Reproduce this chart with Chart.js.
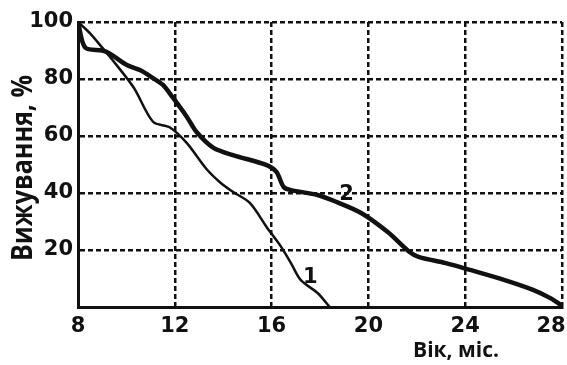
<!DOCTYPE html>
<html>
<head>
<meta charset="utf-8">
<script src="https://cdn.jsdelivr.net/npm/chart.js@4/dist/chart.umd.min.js"></script>
<style>
  html, body { margin: 0; padding: 0; background: #fff; }
  #c { display: block; }
</style>
</head>
<body>
<canvas id="c" width="567" height="365"></canvas>
<script>
// Survival curves: age in months vs. share of animals surviving, %
const ageMonths1 = [8, 8.5, 9.0, 9.3, 10.3, 11.1, 11.8, 12.5, 13.3, 13.9, 14.4, 15.1, 15.8, 16.4, 16.8, 17.2, 17.9, 18.4];
const survival1  = [100, 96, 91, 88, 77, 65, 63, 57.5, 48.5, 43.5, 40.4, 36.5, 28, 21, 15.4, 9.5, 4.9, 0];

const ageMonths2 = [8, 8.3, 9.0, 9.3, 10.0, 10.6, 11.1, 11.5, 11.9, 12.5, 12.9, 13.6, 14.4, 15.8, 16.2, 16.5, 16.8, 17.9, 18.7, 19.7, 20.8, 21.7, 22.1, 23.2, 24.2, 25.6, 26.8, 27.5, 28];
const survival2  = [100, 91, 90, 89, 85, 83, 80.3, 78, 73.7, 66.7, 61.4, 55.8, 53.3, 49.8, 47.4, 42.1, 41, 39.3, 36.8, 33, 26.3, 19.3, 17.5, 15.4, 13, 9.5, 6, 3.2, 0.5];

const xTicks = [8, 12, 16, 20, 24, 28];
const yTicks = [20, 40, 60, 80, 100];

// Curve numbers placed at data coordinates
const curveLabels = [
  { text: '1', x: 17.6, y: 10.5 },
  { text: '2', x: 19.1, y: 39.5 }
];

const toPoints = (xs, ys) => xs.map((x, i) => ({ x, y: ys[i] }));

const INK = '#111';
const tickFont = { family: 'DejaVu Sans', size: 21, weight: 'bold' };

const annotate = {
  id: 'annotate',
  afterDatasetsDraw(chart) {
    const { ctx, scales: { x, y } } = chart;
    ctx.save();
    ctx.fillStyle = INK;
    ctx.font = 'bold 21px "DejaVu Sans"';
    ctx.textAlign = 'center';
    ctx.textBaseline = 'middle';
    curveLabels.forEach(l => ctx.fillText(l.text, x.getPixelForValue(l.x), y.getPixelForValue(l.y)));

    // axis titles
    ctx.font = 'bold 21px "Open Sans"';
    ctx.fillText('Вік, міс.', 456, 351);

    // vertical title, condensed along its length
    const yTitle = 'Вижування, %';
    ctx.font = 'bold 28px "Open Sans"';
    ctx.textBaseline = 'alphabetic';
    const w = ctx.measureText(yTitle).width;
    ctx.translate(32, 168);
    ctx.rotate(-Math.PI / 2);
    ctx.scale(186 / w, 1);
    ctx.fillText(yTitle, 0, 0);
    ctx.restore();
  }
};

new Chart(document.getElementById('c'), {
  type: 'line',
  data: {
    datasets: [
      {
        label: '1',
        data: toPoints(ageMonths1, survival1),
        borderColor: INK,
        borderWidth: 2.5,
        pointRadius: 0,
        tension: 0.3,
        fill: false
      },
      {
        label: '2',
        data: toPoints(ageMonths2, survival2),
        borderColor: INK,
        borderWidth: 4.5,
        pointRadius: 0,
        tension: 0.3,
        fill: false
      }
    ]
  },
  options: {
    responsive: false,
    animation: false,
    devicePixelRatio: 1,
    layout: { padding: { left: 0, right: 5, top: 22, bottom: 0 } },
    plugins: { legend: { display: false }, tooltip: { enabled: false } },
    scales: {
      x: {
        type: 'linear',
        min: 8,
        max: 28,
        afterBuildTicks: s => { s.ticks = xTicks.map(v => ({ value: v })); },
        afterFit: s => { s.height = 58; s.paddingLeft = 0; s.paddingRight = 0; },
        ticks: {
          color: INK, font: tickFont, padding: 7, maxRotation: 0, autoSkip: false,
          // last label is pulled inward so it stays on the canvas
          callback: v => (v === 28 ? '28   ' : String(v))
        },
        grid: { color: INK, lineWidth: 2.5, drawTicks: false },
        border: { display: true, color: INK, width: 3, dash: [5, 3] }
      },
      y: {
        min: 0,
        max: 100,
        afterBuildTicks: s => { s.ticks = yTicks.map(v => ({ value: v })); },
        afterFit: s => { s.width = 78; s.paddingTop = 0; s.paddingBottom = 0; },
        ticks: { color: INK, font: tickFont, padding: 5, autoSkip: false },
        grid: { color: INK, lineWidth: 2.5, drawTicks: false },
        border: { display: true, color: INK, width: 3, dash: [5, 3] }
      }
    }
  },
  plugins: [annotate]
});
</script>
</body>
</html>
